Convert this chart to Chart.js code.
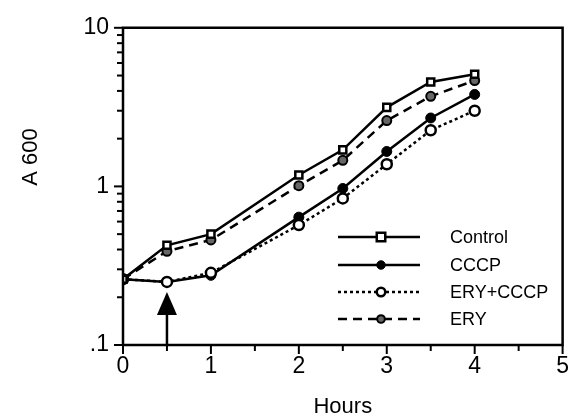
<!DOCTYPE html>
<html><head><meta charset="utf-8">
<script src="https://cdn.jsdelivr.net/npm/chart.js@4"></script>
<style>html,body{margin:0;padding:0;background:#fff}#wrap{width:577px;height:417px}</style>
</head><body><div id="wrap"><canvas id="c" width="577" height="417"></canvas></div>
<script>
const hours = [0, 0.5, 1, 2, 2.5, 3, 3.5, 4];
const control = [0.26, 0.425, 0.50, 1.18, 1.70, 3.15, 4.55, 5.1];
const cccp = [0.26, 0.25, 0.275, 0.64, 0.97, 1.66, 2.70, 3.8];
const eryCccp = [0.26, 0.25, 0.285, 0.57, 0.84, 1.38, 2.26, 3.0];
const ery = [0.26, 0.39, 0.46, 1.01, 1.46, 2.60, 3.70, 4.65];
const seriesNames = ['Control', 'CCCP', 'ERY+CCCP', 'ERY'];
const yTickValues = [0.1,0.2,0.3,0.4,0.5,0.6,0.7,0.8,0.9,1,2,3,4,5,6,7,8,9,10];
const yTickLabels = {0.1: '.1', 1: '1', 10: '10'};
const arrowHour = 0.5;
const FONT = "'Liberation Sans', Arial, sans-serif";

function pts(v){ return hours.map((h,i)=>({x:h, y:v[i]})); }

const datasets = [
  {label: seriesNames[0], order:0, data: pts(control), borderColor:'#000', borderWidth:2.5, pointStyle:'rect', pointRadius:5, pointBackgroundColor:'#fff', pointBorderColor:'#000', pointBorderWidth:2.5},
  {label: seriesNames[1], order:2, data: pts(cccp), borderColor:'#000', borderWidth:2.5, pointStyle:'circle', pointRadius:5, pointBackgroundColor:'#000', pointBorderColor:'#000', pointBorderWidth:1},
  {label: seriesNames[2], order:1, data: pts(eryCccp), borderColor:'#000', borderWidth:2.5, borderDash:[3,3], pointStyle:'circle', pointRadius:5, pointBackgroundColor:'#fff', pointBorderColor:'#000', pointBorderWidth:2.5},
  {label: seriesNames[3], order:3, data: pts(ery), borderColor:'#000', borderWidth:2.5, borderDash:[9,6], pointStyle:'circle', pointRadius:4.5, pointBackgroundColor:'#666', pointBorderColor:'#000', pointBorderWidth:2}
];

const decor = {
  id:'decor',
  afterDatasetsDraw(chart){
    const ctx = chart.ctx, a = chart.chartArea;
    const xs = chart.scales.x, ys = chart.scales.y;
    ctx.save();
    ctx.strokeStyle='#000'; ctx.fillStyle='#000'; ctx.lineWidth=2.5;
    ctx.beginPath();
    ctx.moveTo(a.left, a.bottom); ctx.lineTo(a.left, a.top); ctx.lineTo(a.right, a.top); ctx.lineTo(a.right, a.bottom); ctx.lineTo(a.left, a.bottom);
    ctx.stroke();
    ctx.lineWidth=2;
    yTickValues.forEach(v=>{
      const y = ys.getPixelForValue(v);
      const len = yTickLabels[v] ? 9 : 6;
      ctx.beginPath(); ctx.moveTo(a.left, y); ctx.lineTo(a.left-len, y); ctx.stroke();
    });
    xs.ticks.forEach(t=>{
      const x = xs.getPixelForValue(t.value);
      const len = Number.isInteger(t.value) ? 9 : 6;
      ctx.beginPath(); ctx.moveTo(x, a.bottom); ctx.lineTo(x, a.bottom+len); ctx.stroke();
    });
    const ax = xs.getPixelForValue(arrowHour);
    ctx.lineWidth=2.5;
    ctx.beginPath(); ctx.moveTo(ax, a.bottom); ctx.lineTo(ax, a.bottom-34); ctx.stroke();
    ctx.beginPath(); ctx.moveTo(ax, a.bottom-53); ctx.lineTo(ax-10, a.bottom-30); ctx.lineTo(ax+10, a.bottom-30); ctx.closePath(); ctx.fill();
    const rows = [237, 265, 292, 319];
    ctx.font = "18px " + FONT; ctx.textBaseline='middle'; ctx.textAlign='left';
    chart.data.datasets.forEach((d,i)=>{
      const y = rows[i];
      ctx.lineWidth = d.borderWidth; ctx.setLineDash(d.borderDash||[]);
      ctx.beginPath(); ctx.moveTo(338,y); ctx.lineTo(420,y); ctx.stroke();
      ctx.setLineDash([]);
      const r = d.pointRadius*0.85, cx=381;
      ctx.lineWidth = d.pointBorderWidth;
      ctx.fillStyle = d.pointBackgroundColor;
      ctx.beginPath();
      if (d.pointStyle==='rect') ctx.rect(cx-r, y-r, 2*r, 2*r); else ctx.arc(cx, y, r, 0, Math.PI*2);
      ctx.fill(); ctx.stroke();
      ctx.fillStyle='#000';
      ctx.fillText(d.label, 450, y+1);
    });
    ctx.font = "22px " + FONT;
    ctx.textAlign='center'; ctx.textBaseline='alphabetic';
    ctx.fillText('Hours', (a.left+a.right)/2, 413);
    ctx.save(); ctx.translate(37, 157); ctx.rotate(-Math.PI/2);
    ctx.fillText('A 600', 0, 0); ctx.restore();
    ctx.restore();
  }
};

new Chart(document.getElementById('c'), {
  type:'line',
  data:{datasets},
  options:{
    responsive:false, animation:false, devicePixelRatio:1,
    layout:{padding:{left:0, right:8, top:19, bottom:0}},
    plugins:{legend:{display:false}, tooltip:{enabled:false}},
    scales:{
      x:{type:'linear', min:0, max:5,
        afterFit(s){ s.height = 72; },
        border:{display:false},
        grid:{display:false, drawTicks:false},
        ticks:{stepSize:0.5, autoSkip:false, maxRotation:0, padding:8, color:'#000', font:{family:FONT, size:23},
          callback:(v)=> Number.isInteger(v) ? String(v) : ''}
      },
      y:{type:'logarithmic', min:0.1, max:10,
        afterFit(s){ s.width = 123; },
        afterBuildTicks(s){ s.ticks = yTickValues.map(v=>({value:v})); },
        border:{display:false},
        grid:{display:false, drawTicks:false},
        ticks:{autoSkip:false, padding:14, color:'#000', font:{family:FONT, size:23},
          callback:(v)=> yTickLabels[v] || ''}
      }
    }
  },
  plugins:[decor]
});
</script></body></html>
